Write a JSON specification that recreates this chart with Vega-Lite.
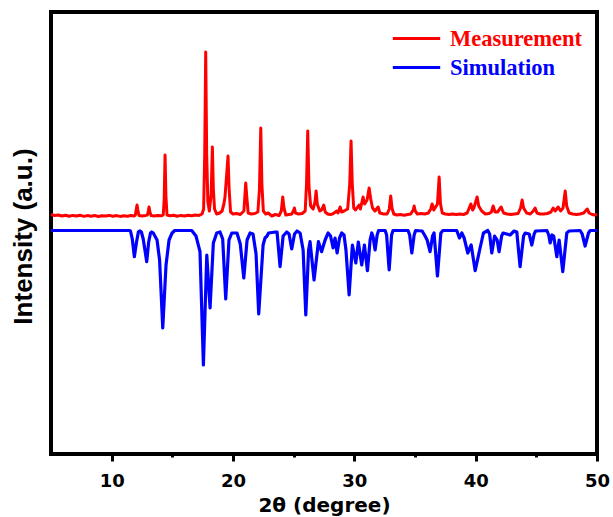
{
  "$schema": "https://vega.github.io/schema/vega-lite/v6.json",
  "width": 546,
  "height": 442,
  "autosize": {"type": "none"},
  "padding": {"left": 51, "top": 12, "right": 16, "bottom": 63},
  "background": "white",
  "config": {
    "view": {"stroke": "black", "strokeWidth": 4},
    "font": "Liberation Sans"
  },
  "datasets": {
    "meas": [
      {"x":5.0,"y":239.5},{"x":5.3,"y":238.5},{"x":5.6,"y":239},{"x":5.9,"y":238},{"x":6.2,"y":238.8},{"x":6.5,"y":237.8},{"x":6.8,"y":238.6},{"x":7.1,"y":238},{"x":7.4,"y":238.8},{"x":7.7,"y":237.6},{"x":8.0,"y":238.4},{"x":8.3,"y":237.8},{"x":8.6,"y":238.5},{"x":8.9,"y":237.5},{"x":9.2,"y":238.3},{"x":9.5,"y":238},{"x":9.8,"y":238.6},{"x":10.1,"y":237.8},{"x":10.4,"y":238.4},{"x":10.7,"y":237.6},{"x":11.0,"y":238.2},{"x":11.3,"y":237.8},{"x":11.6,"y":238.5},{"x":11.85,"y":238},
      {"x":11.95,"y":239},{"x":12.02,"y":244},{"x":12.09,"y":249},{"x":12.16,"y":244},{"x":12.25,"y":238.5},{"x":12.5,"y":238},{"x":12.8,"y":238.6},
      {"x":12.95,"y":239},{"x":13.02,"y":243},{"x":13.08,"y":247},{"x":13.15,"y":242},{"x":13.25,"y":238.5},{"x":13.5,"y":238},{"x":13.8,"y":238.5},{"x":14.1,"y":238.2},
      {"x":14.25,"y":239},{"x":14.33,"y":255},{"x":14.4,"y":299},{"x":14.47,"y":258},{"x":14.56,"y":239},{"x":14.8,"y":238.2},{"x":15.1,"y":238.8},{"x":15.4,"y":237.8},{"x":15.7,"y":238.6},{"x":16.0,"y":238},{"x":16.3,"y":238.8},{"x":16.6,"y":238.2},{"x":16.9,"y":239},{"x":17.2,"y":238.6},{"x":17.45,"y":240},
      {"x":17.58,"y":245},{"x":17.67,"y":300},{"x":17.75,"y":402},{"x":17.83,"y":300},{"x":17.93,"y":252},{"x":18.05,"y":243},{"x":18.2,"y":260},{"x":18.3,"y":307},{"x":18.38,"y":265},{"x":18.48,"y":245},{"x":18.65,"y":240},{"x":18.9,"y":241},{"x":19.1,"y":243},{"x":19.25,"y":250},{"x":19.34,"y":257},{"x":19.45,"y":275},{"x":19.59,"y":298},{"x":19.68,"y":265},{"x":19.8,"y":242},{"x":20.0,"y":240},{"x":20.3,"y":240.5},{"x":20.6,"y":239.5},
      {"x":20.9,"y":243},{"x":20.98,"y":258},{"x":21.05,"y":271},{"x":21.13,"y":258},{"x":21.25,"y":241},{"x":21.5,"y":240},{"x":21.8,"y":240.5},{"x":22.05,"y":242},{"x":22.18,"y":265},{"x":22.29,"y":326},{"x":22.38,"y":270},{"x":22.5,"y":243},{"x":22.7,"y":240},{"x":22.9,"y":241},{"x":23.2,"y":238},{"x":23.5,"y":239.5},{"x":23.8,"y":238.5},
      {"x":23.98,"y":243},{"x":24.1,"y":257},{"x":24.2,"y":246},{"x":24.35,"y":239},{"x":24.6,"y":239.5},{"x":24.85,"y":240},{"x":25.0,"y":244},{"x":25.06,"y":246},{"x":25.15,"y":241},{"x":25.4,"y":240},{"x":25.7,"y":240.5},{"x":25.95,"y":243},
      {"x":26.06,"y":270},{"x":26.16,"y":323},{"x":26.26,"y":268},{"x":26.4,"y":248},{"x":26.6,"y":245},{"x":26.76,"y":252},{"x":26.85,"y":263},{"x":26.94,"y":250},{"x":27.15,"y":243},{"x":27.3,"y":244},{"x":27.48,"y":249},{"x":27.6,"y":242},{"x":27.8,"y":240},{"x":28.0,"y":239.5},{"x":28.2,"y":240},{"x":28.45,"y":242},{"x":28.55,"y":243},{"x":28.65,"y":241},{"x":28.83,"y":247},{"x":28.95,"y":242},{"x":29.15,"y":243},{"x":29.45,"y":245},
      {"x":29.62,"y":270},{"x":29.73,"y":313},{"x":29.83,"y":270},{"x":29.95,"y":246},{"x":30.1,"y":244},{"x":30.39,"y":249},{"x":30.5,"y":245},{"x":30.72,"y":257},{"x":30.85,"y":250},{"x":31.05,"y":254},{"x":31.22,"y":266},{"x":31.35,"y":255},{"x":31.5,"y":246},{"x":31.7,"y":243},{"x":31.96,"y":247},{"x":32.1,"y":241},{"x":32.4,"y":240},{"x":32.7,"y":240},
      {"x":32.88,"y":245},{"x":33.0,"y":258},{"x":33.1,"y":246},{"x":33.25,"y":240},{"x":33.5,"y":239},{"x":33.8,"y":239.5},{"x":34.1,"y":238.8},{"x":34.4,"y":239.5},{"x":34.65,"y":240},{"x":34.85,"y":244},{"x":34.93,"y":248},{"x":35.02,"y":243},{"x":35.2,"y":240},{"x":35.5,"y":240.5},{"x":35.8,"y":240},{"x":36.1,"y":241},{"x":36.3,"y":245},{"x":36.41,"y":250},{"x":36.55,"y":244},
      {"x":36.85,"y":250},{"x":36.99,"y":277},{"x":37.1,"y":250},{"x":37.25,"y":241},{"x":37.5,"y":240},{"x":37.8,"y":239.5},{"x":38.1,"y":240},{"x":38.4,"y":239.5},{"x":38.7,"y":240},{"x":39.0,"y":239.5},{"x":39.3,"y":241},{"x":39.6,"y":250},{"x":39.75,"y":244},{"x":39.85,"y":246},{"x":40.12,"y":257},{"x":40.25,"y":248},{"x":40.5,"y":243},{"x":40.8,"y":240},{"x":41.1,"y":240.5},{"x":41.3,"y":242},{"x":41.44,"y":248},{"x":41.6,"y":242},{"x":41.8,"y":242},{"x":42.1,"y":247},{"x":42.3,"y":241},{"x":42.6,"y":240},{"x":42.9,"y":239.5},{"x":43.2,"y":240},{"x":43.5,"y":240.5},{"x":43.7,"y":246},{"x":43.83,"y":254},{"x":43.95,"y":246},{"x":44.2,"y":241},{"x":44.5,"y":240},{"x":44.75,"y":243},{"x":44.9,"y":246},{"x":45.05,"y":241},{"x":45.3,"y":240},{"x":45.6,"y":240},{"x":45.9,"y":240.5},{"x":46.2,"y":242},{"x":46.39,"y":246},{"x":46.55,"y":243},{"x":46.8,"y":247},{"x":47.0,"y":243},{"x":47.2,"y":246},{"x":47.38,"y":263},{"x":47.5,"y":248},{"x":47.7,"y":241},{"x":48.0,"y":240},{"x":48.3,"y":239.5},{"x":48.6,"y":240},{"x":48.9,"y":241},{"x":49.19,"y":245},{"x":49.35,"y":241},{"x":49.6,"y":239.5},{"x":49.8,"y":239},{"x":50.0,"y":239.5}
    ],
    "sim": [
      {"x":5.0,"y":223.5},{"x":11.51,"y":223.5},{"x":11.55,"y":223},{"x":11.7,"y":215},{"x":11.87,"y":197.3},{"x":12.05,"y":212},{"x":12.2,"y":222},{"x":12.34,"y":223},
      {"x":12.45,"y":222},{"x":12.6,"y":215},{"x":12.89,"y":192.3},{"x":13.05,"y":212},{"x":13.2,"y":221},{"x":13.3,"y":222},
      {"x":13.43,"y":221},{"x":13.74,"y":214},{"x":13.95,"y":194},{"x":14.21,"y":126},{"x":14.48,"y":189},{"x":14.73,"y":214},{"x":14.98,"y":221},{"x":15.2,"y":223.5},
      {"x":16.6,"y":223.5},{"x":16.95,"y":218},{"x":17.28,"y":202.3},{"x":17.56,"y":89},{"x":17.84,"y":199},{"x":18.11,"y":146},{"x":18.38,"y":211},{"x":18.66,"y":221},{"x":18.93,"y":222},
      {"x":19.15,"y":215},{"x":19.4,"y":155},{"x":19.67,"y":214},{"x":19.9,"y":221},
      {"x":20.33,"y":221},{"x":20.6,"y":210},{"x":20.89,"y":176},{"x":21.16,"y":214},{"x":21.41,"y":221},
      {"x":21.65,"y":220},{"x":21.9,"y":200},{"x":22.12,"y":140},{"x":22.48,"y":209},{"x":22.64,"y":216},{"x":22.81,"y":218},{"x":22.93,"y":221},{"x":23.5,"y":222},
      {"x":23.63,"y":222},{"x":23.88,"y":187.3},{"x":24.13,"y":218},{"x":24.43,"y":222},
      {"x":24.62,"y":220},{"x":24.84,"y":205},{"x":25.07,"y":220},{"x":25.28,"y":223},
      {"x":25.53,"y":221},{"x":25.78,"y":204},{"x":26.0,"y":139},{"x":26.23,"y":204},{"x":26.35,"y":212.3},{"x":26.68,"y":174},{"x":27.04,"y":212.3},{"x":27.3,"y":202.3},{"x":27.59,"y":214},{"x":27.84,"y":221},
      {"x":28.04,"y":218},{"x":28.25,"y":206},{"x":28.41,"y":216},{"x":28.58,"y":201},{"x":28.78,"y":216},{"x":28.96,"y":221},
      {"x":29.15,"y":219},{"x":29.31,"y":204},{"x":29.57,"y":159},{"x":29.84,"y":209},{"x":30.12,"y":191},{"x":30.33,"y":212},{"x":30.61,"y":189},{"x":30.83,"y":209},{"x":31.08,"y":183.3},{"x":31.3,"y":214},{"x":31.44,"y":221},
      {"x":31.55,"y":217},{"x":31.71,"y":204},{"x":31.88,"y":219},{"x":32.0,"y":223.5},
      {"x":32.54,"y":223.5},{"x":32.66,"y":219},{"x":32.87,"y":184},{"x":33.07,"y":219},{"x":33.19,"y":223.5},
      {"x":34.43,"y":223.5},{"x":34.56,"y":219},{"x":34.74,"y":201},{"x":34.93,"y":219},{"x":35.05,"y":223.5},
      {"x":35.59,"y":223},{"x":35.83,"y":218},{"x":36.0,"y":214},{"x":36.24,"y":202.3},{"x":36.45,"y":218},{"x":36.57,"y":221},{"x":36.85,"y":178},{"x":37.13,"y":221},{"x":37.3,"y":223.5},
      {"x":38.44,"y":223.5},{"x":38.66,"y":216},{"x":38.86,"y":221},{"x":39.05,"y":216},{"x":39.35,"y":201},{"x":39.63,"y":209},{"x":39.96,"y":183.3},{"x":40.31,"y":203},{"x":40.64,"y":221},{"x":41.0,"y":223.5},
      {"x":41.15,"y":220},{"x":41.33,"y":201},{"x":41.56,"y":218},{"x":41.77,"y":214},{"x":41.93,"y":202.3},{"x":42.14,"y":218},{"x":42.26,"y":221},{"x":42.84,"y":219},{"x":43.17,"y":223},
      {"x":43.39,"y":222},{"x":43.66,"y":187.3},{"x":43.95,"y":218},{"x":44.08,"y":221},
      {"x":44.41,"y":220},{"x":44.63,"y":209},{"x":44.82,"y":220},{"x":44.94,"y":223},
      {"x":45.87,"y":223.5},{"x":46.02,"y":219},{"x":46.14,"y":211},{"x":46.3,"y":219},{"x":46.43,"y":218},{"x":46.69,"y":197.3},{"x":46.88,"y":214},{"x":47.18,"y":182.3},{"x":47.51,"y":221},{"x":47.7,"y":223},
      {"x":48.61,"y":223.5},{"x":48.78,"y":220},{"x":49.02,"y":208},{"x":49.3,"y":221},{"x":49.44,"y":223.5},{"x":50.0,"y":223.5}
    ]
  },
  "encoding": {
    "x": {
      "field": "x", "type": "quantitative",
      "scale": {"domain": [5, 50], "nice": false, "zero": false},
      "axis": {
        "values": [10, 15, 20, 25, 30, 35, 40, 45, 50],
        "labelExpr": "datum.value % 10 === 0 ? datum.label : ''",
        "tickSize": {"condition": {"test": "datum.value % 10 === 0", "value": 7}, "value": 3},
        "tickWidth": 3, "tickColor": "black",
        "domain": false, "grid": false,
        "labelFont": "DejaVu Sans", "labelFontSize": 18, "labelFontWeight": "bold", "labelColor": "black",
        "labelPadding": 11, "labelFlush": false,
        "title": "2θ  (degree)",
        "titleFont": "DejaVu Sans", "titleFontSize": 20, "titleFontWeight": "bold", "titleColor": "black",
        "titlePadding": 5
      }
    },
    "y": {
      "field": "y", "type": "quantitative",
      "scale": {"domain": [0, 442], "nice": false, "zero": false},
      "axis": {
        "ticks": false, "labels": false, "domain": false, "grid": false,
        "title": "Intensity (a.u.)",
        "titleFont": "Liberation Sans", "titleFontSize": 26, "titleFontWeight": "bold", "titleColor": "black",
        "titlePadding": 15, "titleY": 224
      }
    }
  },
  "layer": [
    {
      "data": {"name": "sim"},
      "mark": {"type": "line", "strokeWidth": 3.2, "strokeJoin": "round"},
      "encoding": {"color": {"datum": "Simulation"}}
    },
    {
      "data": {"name": "meas"},
      "mark": {"type": "line", "strokeWidth": 3, "strokeJoin": "round"},
      "encoding": {
        "color": {
          "datum": "Measurement",
          "scale": {"domain": ["Measurement", "Simulation"], "range": ["#ff0000", "#0000ff"]},
          "legend": {
            "orient": "none", "legendX": 352, "legendY": 13, "direction": "vertical",
            "title": null, "padding": 0,
            "symbolType": "M-2,0H2", "symbolSize": 562, "symbolStrokeWidth": 3,
            "labelFont": "Liberation Serif", "labelFontSize": 22.5, "labelFontWeight": "bold",
            "labelColor": {"expr": "datum.value == 'Measurement' ? '#ff0000' : '#0000ff'"},
            "labelOffset": 20, "rowPadding": 4
          }
        }
      }
    }
  ]
}
